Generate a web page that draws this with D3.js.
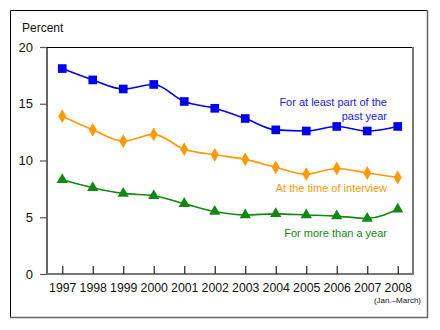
<!DOCTYPE html>
<html>
<head>
<meta charset="utf-8">
<script src="https://cdn.jsdelivr.net/npm/d3@7"></script>
<style>
  body { margin: 0; background: #fff; }
  svg text { font-family: "Liberation Sans", Arial, sans-serif; }
</style>
</head>
<body>
<div id="chart"></div>
<script>
// Chart data
const years = ['1997', '1998', '1999', '2000', '2001', '2002', '2003', '2004', '2005', '2006', '2007', '2008'];
const partOfYear = [18.1, 17.1, 16.3, 16.7, 15.2, 14.6, 13.7, 12.7, 12.6, 13.0, 12.6, 13.0];
const atInterview = [13.9, 12.7, 11.7, 12.3, 11.0, 10.5, 10.1, 9.4, 8.8, 9.3, 8.9, 8.5];
const moreThanYear = [8.3, 7.6, 7.1, 6.9, 6.2, 5.5, 5.2, 5.3, 5.2, 5.1, 4.9, 5.7];
const yTicks = [0, 5, 10, 15, 20];

const width = 440;
const height = 330;
const plot = { left: 47, top: 47, right: 413, bottom: 274 };

const svg = d3.select('#chart')
    .append('svg')
    .attr('width', width)
    .attr('height', height);

// Outer frame
svg.append('path')
    .attr('d', `M 10.5 318 V 10.5 H 428`)
    .attr('fill', 'none')
    .attr('stroke', '#000')
    .attr('stroke-width', 1);
svg.append('path')
    .attr('d', `M 427.5 10 V 317.5 H 10`)
    .attr('fill', 'none')
    .attr('stroke', '#666')
    .attr('stroke-width', 1.5);

const x = d3.scalePoint()
    .domain(years)
    .range([plot.left, plot.right])
    .padding(0.5);

const y = d3.scaleLinear()
    .domain([0, 20])
    .range([plot.bottom, plot.top]);

// Plot box
svg.append('path')
    .attr('d', `M ${plot.left} ${plot.bottom} V ${plot.top + 0.5} H ${plot.right}`)
    .attr('fill', 'none')
    .attr('stroke', '#000')
    .attr('stroke-width', 1.2);
svg.append('path')
    .attr('d', `M ${plot.right} ${plot.top} V ${plot.bottom} H ${plot.left}`)
    .attr('fill', 'none')
    .attr('stroke', '#777')
    .attr('stroke-width', 2);

// Y axis
const yAxis = svg.append('g')
    .attr('transform', `translate(${plot.left},0)`)
    .call(d3.axisLeft(y).tickValues(yTicks).tickSize(7).tickPadding(7));
yAxis.select('.domain').remove();
yAxis.selectAll('line').attr('stroke', '#555').attr('stroke-width', 1.2);
yAxis.selectAll('text')
    .attr('font-size', 13)
    .attr('fill', '#111')
    .attr('font-family', '"Liberation Sans", Arial, sans-serif');

// X axis (ticks point inward)
const xAxis = svg.append('g')
    .attr('transform', `translate(0,${plot.bottom})`)
    .call(d3.axisBottom(x).tickSize(-8).tickPadding(9));
xAxis.select('.domain').remove();
xAxis.selectAll('line').attr('stroke', '#222').attr('stroke-width', 1.2);
xAxis.selectAll('text')
    .attr('font-size', 12.3)
    .attr('fill', '#111')
    .attr('font-family', '"Liberation Sans", Arial, sans-serif');

svg.append('text')
    .attr('x', 421)
    .attr('y', 303)
    .attr('text-anchor', 'end')
    .attr('font-size', 8)
    .attr('fill', '#111')
    .text('(Jan.–March)');

svg.append('text')
    .attr('x', 22)
    .attr('y', 32)
    .attr('font-size', 12)
    .attr('fill', '#111')
    .text('Percent');

// Series
const series = [
    { values: partOfYear, color: '#0000ee', symbol: d3.symbolSquare, size: 75 },
    { values: atInterview, color: '#ff9900', symbol: d3.symbolDiamond, size: 55 },
    { values: moreThanYear, color: '#118811', symbol: d3.symbolTriangle, size: 55 }
];

const line = d3.line()
    .x((d, i) => x(years[i]))
    .y(d => y(d))
    .curve(d3.curveMonotoneX);

series.forEach(s => {
    svg.append('path')
        .datum(s.values)
        .attr('d', line)
        .attr('fill', 'none')
        .attr('stroke', s.color)
        .attr('stroke-width', 1.6);

    svg.selectAll(null)
        .data(s.values)
        .enter()
        .append('path')
        .attr('d', d3.symbol().type(s.symbol).size(s.size))
        .attr('transform', (d, i) => `translate(${x(years[i])},${y(d)})`)
        .attr('fill', s.color);
});

// Series labels
const labels = [
    { lines: ['For at least part of the', 'past year'], color: '#2020ee', y: 106 },
    { lines: ['At the time of interview'], color: '#ff9900', y: 192 },
    { lines: ['For more than a year'], color: '#118811', y: 237 }
];

labels.forEach(l => {
    const t = svg.append('text')
        .attr('text-anchor', 'end')
        .attr('font-size', 11)
        .attr('fill', l.color);
    l.lines.forEach((txt, i) => {
        t.append('tspan')
            .attr('x', 387)
            .attr('y', l.y + i * 14)
            .text(txt);
    });
});
</script>
</body>
</html>
